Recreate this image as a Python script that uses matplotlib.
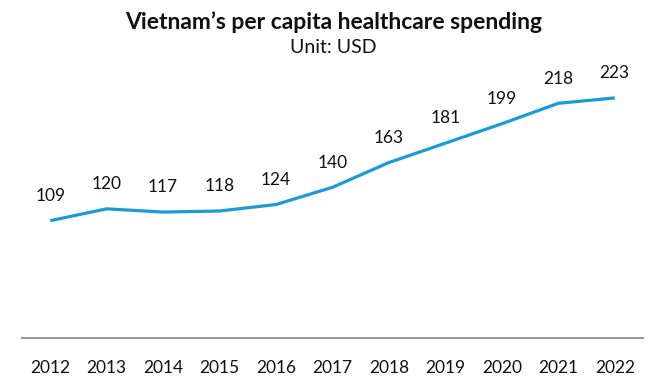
import matplotlib
matplotlib.use('Agg')
import matplotlib.pyplot as plt

years = ['2012', '2013', '2014', '2015', '2016', '2017', '2018', '2019', '2020', '2021', '2022']
spending = [109, 120, 117, 118, 124, 140, 163, 181, 199, 218, 223]

plt.rcParams['font.family'] = ['Lato', 'DejaVu Sans']

fig = plt.figure(figsize=(6.67, 3.89), dpi=100)
ax = fig.add_axes([0.033, 0.131, 0.931, 0.692])

x = list(range(len(years)))
ax.plot(x, spending, color='#1b9ad6', linewidth=2.3, solid_capstyle='butt')

for xi, v in zip(x, spending):
    ax.annotate(str(v), (xi, v), xytext=(0, 12), textcoords='offset points',
                ha='center', va='bottom', fontsize=12.5, color='#111111')

ax.set_xlim(-0.5, len(years) - 0.5)
ax.set_ylim(0, 250)
ax.set_xticks(x)
ax.set_xticklabels(years, fontsize=12.5, color='#111111')
ax.tick_params(axis='x', length=0, pad=16)
ax.set_yticks([])
for side in ['left', 'right', 'top']:
    ax.spines[side].set_visible(False)
ax.spines['bottom'].set_color('#8c8c8c')
ax.spines['bottom'].set_linewidth(1.3)

fig.text(0.5, 0.942, 'Vietnam\u2019s per capita healthcare spending', ha='center', va='center',
         fontsize=16.5, fontweight='bold', color='#111111')
fig.text(0.5, 0.878, 'Unit: USD', ha='center', va='center', fontsize=14, color='#111111')

fig.savefig('out.png', dpi=100)
